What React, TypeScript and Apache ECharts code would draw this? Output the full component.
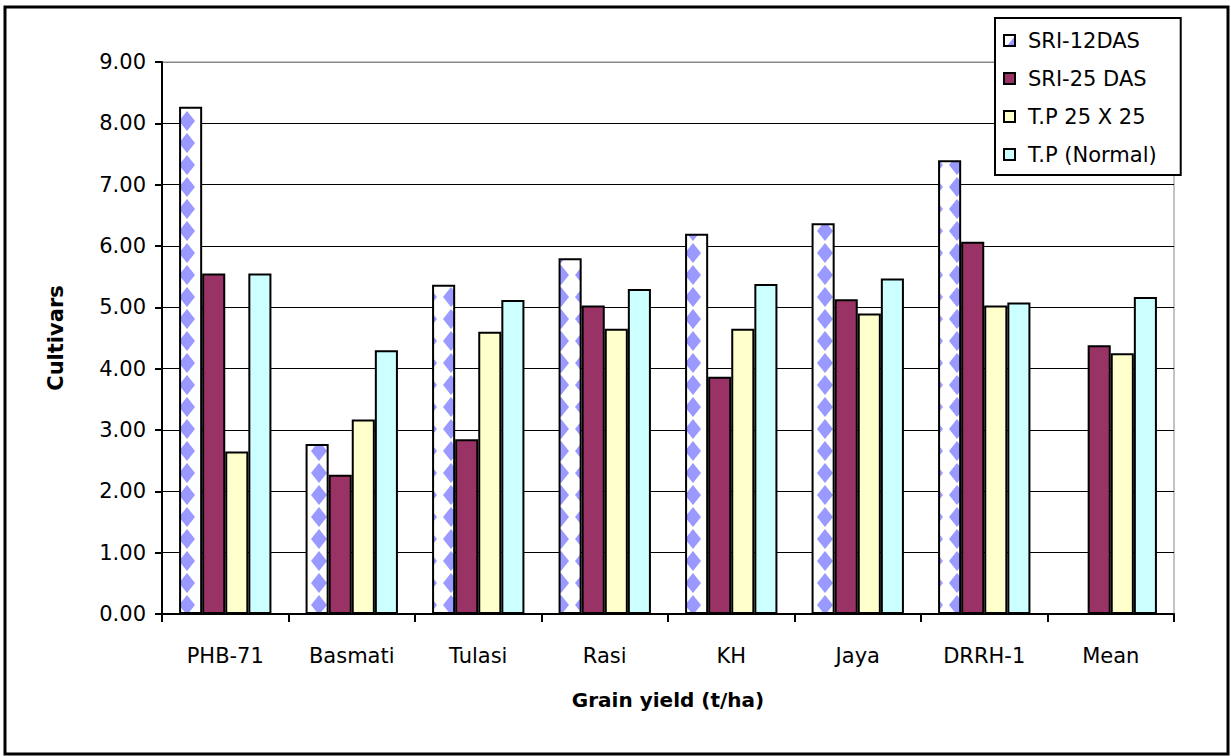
import React, { useEffect, useRef } from "react";
import * as echarts from "echarts";

const categories = ["PHB-71", "Basmati", "Tulasi", "Rasi", "KH", "Jaya", "DRRH-1", "Mean"];
const seriesNames = ["SRI-12DAS", "SRI-25 DAS", "T.P 25 X 25", "T.P (Normal)"];
const sri12 = [8.27, 2.77, 5.37, 5.8, 6.2, 6.37, 7.4, null];
const sri25 = [5.55, 2.27, 2.85, 5.03, 3.87, 5.13, 6.07, 4.38];
const tp25 = [2.65, 3.17, 4.6, 4.65, 4.65, 4.9, 5.03, 4.25];
const tpNormal = [5.55, 4.3, 5.12, 5.3, 5.38, 5.47, 5.08, 5.17];
const yTicks = [0, 1, 2, 3, 4, 5, 6, 7, 8, 9];

function makePattern(): HTMLCanvasElement {
  const c = document.createElement("canvas");
  c.width = 22;
  c.height = 22;
  const ctx = c.getContext("2d")!;
  ctx.fillStyle = "#ffffff";
  ctx.fillRect(0, 0, 22, 22);
  ctx.fillStyle = "#9999ff";
  ctx.beginPath();
  ctx.moveTo(11, 1);
  ctx.lineTo(19, 11);
  ctx.lineTo(11, 21);
  ctx.lineTo(3, 11);
  ctx.closePath();
  ctx.fill();
  return c;
}

export default function App() {
  const ref = useRef<HTMLDivElement>(null);
  useEffect(() => {
    const chart = echarts.init(ref.current!, undefined, { renderer: "svg" });
    const pattern = { image: makePattern(), repeat: "repeat" };
    const font = "DejaVu Sans";
    const fs = 21;
    const barStyle = (color: any) => ({ color, borderColor: "#000", borderWidth: 2 });
    const splitColors = yTicks.map((t) => (t === 9 ? "#888" : "#000"));
    chart.setOption({
      animation: false,
      backgroundColor: "#fff",
      textStyle: { fontFamily: font },
      grid: {
        left: 162,
        right: 57,
        top: 62,
        bottom: 142,
        show: true,
        borderColor: "#888",
        borderWidth: 1,
      },
      graphic: [
        {
          type: "rect",
          shape: { x: 5, y: 7, width: 1223, height: 747 },
          style: { fill: "none", stroke: "#000", lineWidth: 3 },
          silent: true,
          z: -1,
        },
      ],
      legend: {
        orient: "vertical",
        left: 995,
        top: 18,
        padding: [12, 24, 10, 8],
        itemGap: 17,
        itemWidth: 11,
        itemHeight: 11,
        icon: "rect",
        backgroundColor: "#fff",
        borderColor: "#000",
        borderWidth: 2,
        borderRadius: 0,
        textStyle: { fontSize: 21, color: "#000", fontFamily: font, padding: [0, 0, 0, 8] },
        data: seriesNames,
      },
      xAxis: {
        type: "category",
        data: categories,
        name: "Grain yield (t/ha)",
        nameLocation: "middle",
        nameGap: 76,
        nameTextStyle: { fontSize: 20, fontWeight: "bold", color: "#000", fontFamily: font },
        axisLine: { lineStyle: { color: "#000", width: 2 } },
        axisTick: { show: true, length: 8, lineStyle: { color: "#000", width: 2 } },
        axisLabel: { fontSize: fs, color: "#000", margin: 31, fontFamily: font },
      },
      yAxis: {
        type: "value",
        min: 0,
        max: 9,
        interval: 1,
        name: "Cultivars",
        nameLocation: "middle",
        nameGap: 96,
        nameTextStyle: { fontSize: 21, fontWeight: "bold", color: "#000", fontFamily: font },
        axisLine: { show: true, lineStyle: { color: "#000", width: 2 } },
        axisTick: { show: true, length: 7, lineStyle: { color: "#000", width: 2 } },
        axisLabel: { fontSize: fs, color: "#000", margin: 16, fontFamily: font, formatter: (v: number) => v.toFixed(2) },
        splitLine: { show: true, lineStyle: { color: splitColors, width: 1 } },
      },
      series: [
        { name: seriesNames[0], type: "bar", data: sri12, itemStyle: barStyle(pattern), barGap: "0%", barCategoryGap: "27%" },
        { name: seriesNames[1], type: "bar", data: sri25, itemStyle: barStyle("#993366") },
        { name: seriesNames[2], type: "bar", data: tp25, itemStyle: barStyle("#ffffcc") },
        { name: seriesNames[3], type: "bar", data: tpNormal, itemStyle: barStyle("#ccffff") },
      ],
    });
    return () => chart.dispose();
  }, []);
  return (
    <div
      ref={ref}
      style={{ position: "fixed", left: 0, top: 0, width: 1231, height: 756 }}
    />
  );
}
